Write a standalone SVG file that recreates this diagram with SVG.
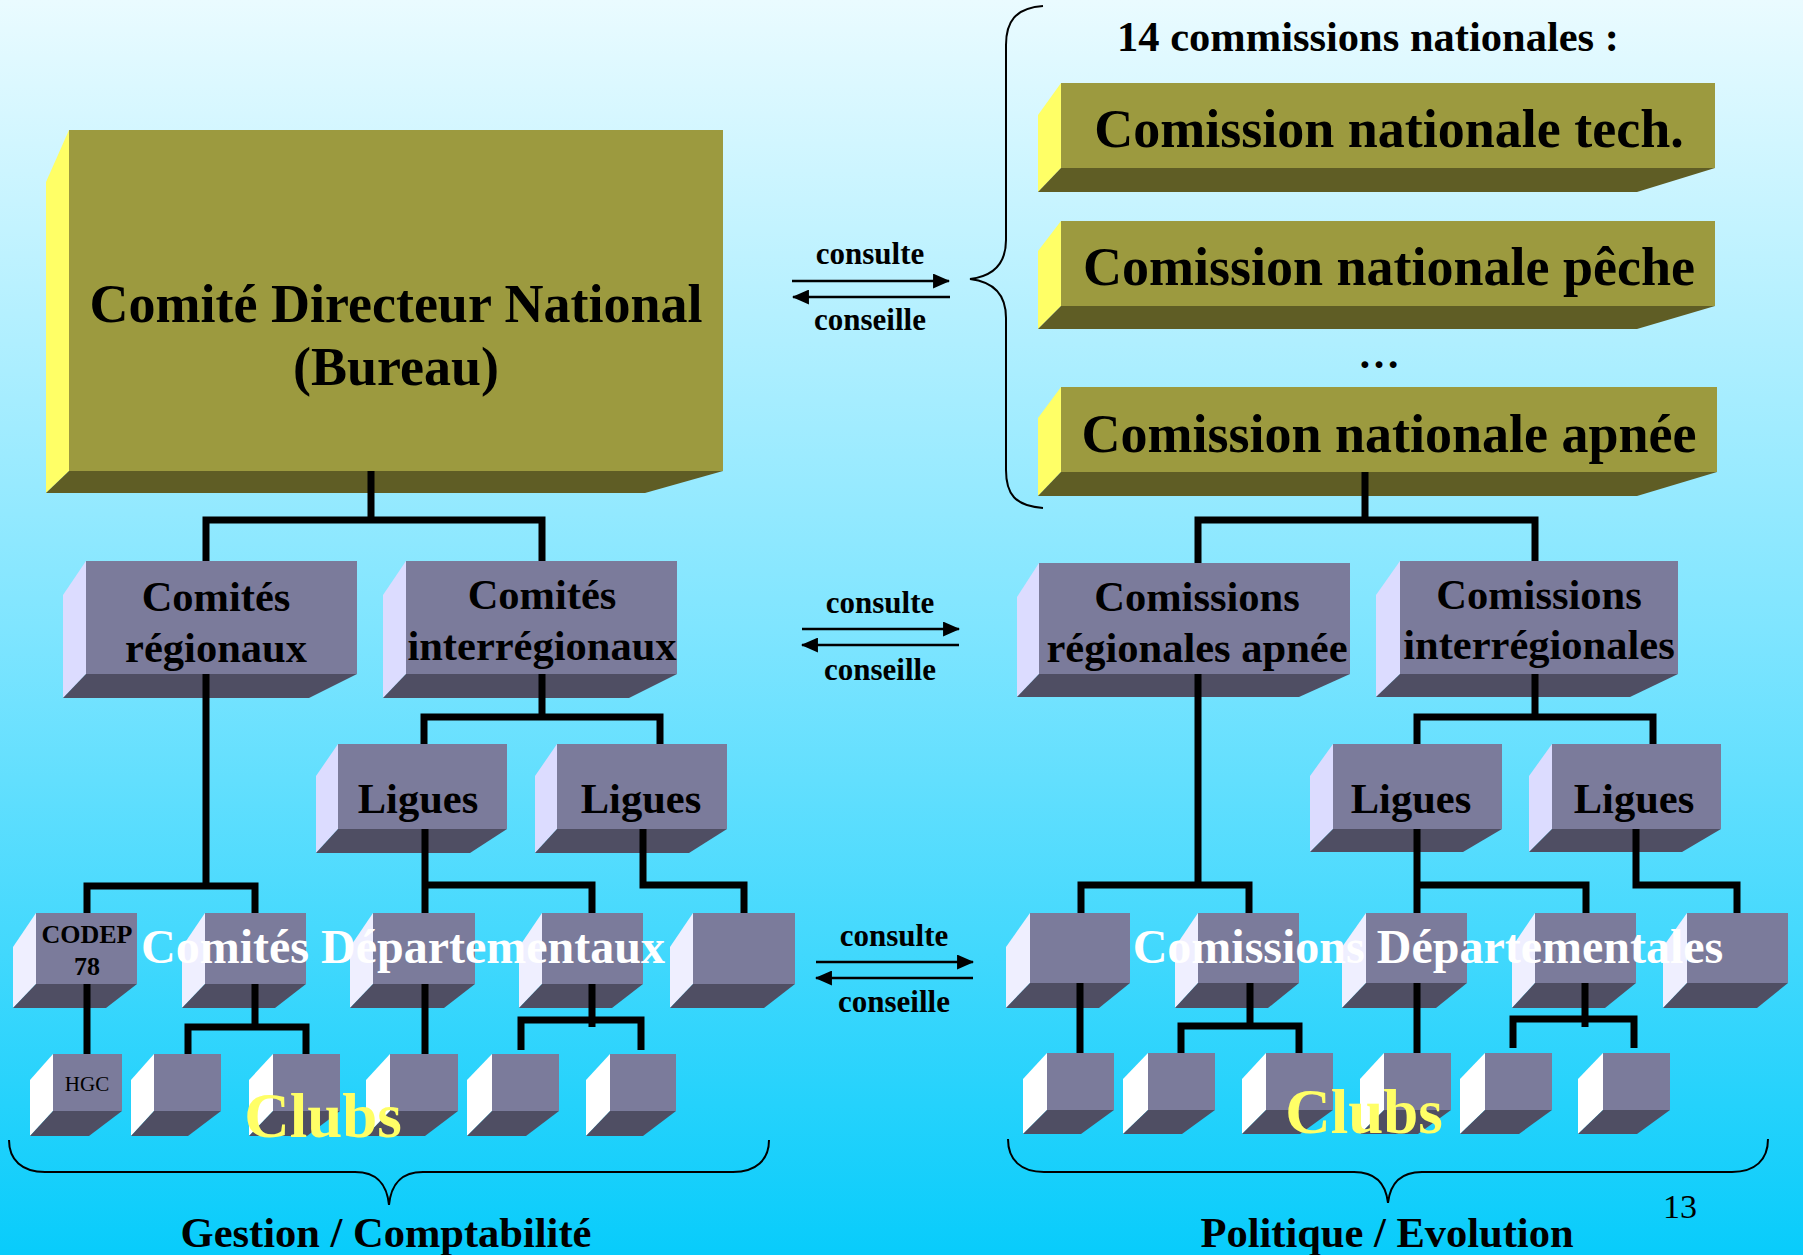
<svg xmlns="http://www.w3.org/2000/svg" width="1803" height="1255" viewBox="0 0 1803 1255">
<defs>
<linearGradient id="bg" x1="0" y1="0" x2="0" y2="1">
<stop offset="0" stop-color="#EAFBFF"/>
<stop offset="0.5" stop-color="#7FE5FF"/>
<stop offset="1" stop-color="#08CCFB"/>
</linearGradient>
<marker id="ah" viewBox="0 0 16 14" refX="15" refY="7" markerWidth="17" markerHeight="15" markerUnits="userSpaceOnUse" orient="auto">
<path d="M0 0 L16 7 L0 14 Z" fill="#000"/>
</marker>
<style>
.of{fill:#9C9A3F}.ob{fill:#5F5D25}.oy{fill:#FFFF66}
.gf{fill:#7B7B9B}.gb{fill:#4F4E63}.gs{fill:#DCDCFF}.ds{fill:#EFEFFF}.cs{fill:#FFFFFF}
.t{font-family:"Liberation Serif","Times New Roman",serif;font-weight:bold;fill:#000;text-anchor:middle}
.big{font-size:54px}.mid{font-size:42.5px}.arr{font-size:31px}
.w{fill:#FFFFFF;font-size:48px}.y{fill:#FFFF66;font-size:63px}
.con{fill:none;stroke:#000;stroke-width:7}
.al{stroke:#000;stroke-width:2.5;marker-end:url(#ah)}
.br{fill:none;stroke:#000;stroke-width:2}
</style>
</defs>
<rect x="0" y="0" width="1803" height="1255" fill="url(#bg)"/>

<g id="cdn">
<polygon class="oy" points="46,182 69,130 69,471 46,493"/>
<polygon class="ob" points="46,493 69,471 723,471 645,493"/>
<rect class="of" x="69" y="130" width="654" height="341"/>
<text class="t big" x="396" y="322">Comité Directeur National</text>
<text class="t big" x="396" y="385">(Bureau)</text>
</g>

<text id="title14" class="t" style="font-size:42.5px" x="1368" y="51">14 commissions nationales :</text>

<g id="cn-tech">
<polygon class="oy" points="1038,115 1061,83 1061,168 1038,192"/>
<polygon class="ob" points="1038,192 1061,168 1715,168 1637,192"/>
<rect class="of" x="1061" y="83" width="654" height="85"/>
<text class="t big" x="1389" y="147">Comission nationale tech.</text>
</g>
<g id="cn-peche">
<polygon class="oy" points="1038,251 1061,221 1061,306 1038,329"/>
<polygon class="ob" points="1038,329 1061,306 1715,306 1637,329"/>
<rect class="of" x="1061" y="221" width="654" height="85"/>
<text class="t big" x="1389" y="285">Comission nationale pêche</text>
</g>
<text id="dots" class="t" style="font-size:42px" x="1379" y="368">…</text>
<g id="cn-apnee">
<polygon class="oy" points="1038,418 1061,387 1061,472 1038,496"/>
<polygon class="ob" points="1038,496 1061,472 1717,472 1637,496"/>
<rect class="of" x="1061" y="387" width="656" height="85"/>
<text class="t big" x="1389" y="452">Comission nationale apnée</text>
</g>

<g id="c-reg">
<polygon class="gs" points="63,595 86,561 86,674 63,698"/>
<polygon class="gb" points="63,698 86,674 357,674 309,698"/>
<rect class="gf" x="86" y="561" width="271" height="113"/>
<text class="t mid" x="216" y="611">Comités</text>
<text class="t mid" x="216" y="662">régionaux</text>
</g>
<g id="c-interreg">
<polygon class="gs" points="383,595 406,561 406,674 383,698"/>
<polygon class="gb" points="383,698 406,674 677,674 629,698"/>
<rect class="gf" x="406" y="561" width="271" height="113"/>
<text class="t mid" x="542" y="609">Comités</text>
<text class="t mid" x="542" y="660">interrégionaux</text>
</g>
<g id="cr-apnee">
<polygon class="gs" points="1017,597 1039,563 1039,674 1017,697"/>
<polygon class="gb" points="1017,697 1039,674 1350,674 1299,697"/>
<rect class="gf" x="1039" y="563" width="311" height="111"/>
<text class="t mid" x="1197" y="611">Comissions</text>
<text class="t mid" x="1197" y="662">régionales apnée</text>
</g>
<g id="cr-interreg">
<polygon class="gs" points="1376,595 1400,561 1400,674 1376,697"/>
<polygon class="gb" points="1376,697 1400,674 1678,674 1630,697"/>
<rect class="gf" x="1400" y="561" width="278" height="113"/>
<text class="t mid" x="1539" y="609">Comissions</text>
<text class="t mid" x="1539" y="659">interrégionales</text>
</g>

<g id="ligue-l1">
<polygon class="gs" points="316,776 338,744 338,829 316,853"/>
<polygon class="gb" points="316,853 338,829 507,829 470,853"/>
<rect class="gf" x="338" y="744" width="169" height="85"/>
<text class="t mid" x="418" y="813">Ligues</text>
</g>
<g id="ligue-l2">
<polygon class="gs" points="535,776 557,744 557,829 535,853"/>
<polygon class="gb" points="535,853 557,829 727,829 689,853"/>
<rect class="gf" x="557" y="744" width="170" height="85"/>
<text class="t mid" x="641" y="813">Ligues</text>
</g>
<g id="ligue-r1">
<polygon class="gs" points="1310,776 1333,744 1333,829 1310,852"/>
<polygon class="gb" points="1310,852 1333,829 1502,829 1463,852"/>
<rect class="gf" x="1333" y="744" width="169" height="85"/>
<text class="t mid" x="1411" y="813">Ligues</text>
</g>
<g id="ligue-r2">
<polygon class="gs" points="1529,776 1552,744 1552,829 1529,852"/>
<polygon class="gb" points="1529,852 1552,829 1721,829 1682,852"/>
<rect class="gf" x="1552" y="744" width="169" height="85"/>
<text class="t mid" x="1634" y="813">Ligues</text>
</g>

<g id="dep-l1">
<polygon class="ds" points="13,947 36,913 36,984 13,1008"/>
<polygon class="gb" points="13,1008 36,984 137,984 106,1008"/>
<rect class="gf" x="36" y="913" width="101" height="71"/>
<text class="t" style="font-size:26px" x="87" y="943">CODEP</text>
<text class="t" style="font-size:26px" x="87" y="975">78</text>
</g>
<g id="dep-l2">
<polygon class="ds" points="182,947 205,913 205,984 182,1008"/>
<polygon class="gb" points="182,1008 205,984 306,984 275,1008"/>
<rect class="gf" x="205" y="913" width="101" height="71"/>
</g>
<g id="dep-l3">
<polygon class="ds" points="350,947 373,913 373,984 350,1008"/>
<polygon class="gb" points="350,1008 373,984 475,984 444,1008"/>
<rect class="gf" x="373" y="913" width="102" height="71"/>
</g>
<g id="dep-l4">
<polygon class="ds" points="519,947 542,913 542,984 519,1008"/>
<polygon class="gb" points="519,1008 542,984 643,984 612,1008"/>
<rect class="gf" x="542" y="913" width="101" height="71"/>
</g>
<g id="dep-l5">
<polygon class="ds" points="670,947 693,913 693,984 670,1008"/>
<polygon class="gb" points="670,1008 693,984 795,984 764,1008"/>
<rect class="gf" x="693" y="913" width="102" height="71"/>
</g>

<g id="dep-r1">
<polygon class="ds" points="1006,947 1030,913 1030,983 1006,1008"/>
<polygon class="gb" points="1006,1008 1030,983 1130,983 1099,1008"/>
<rect class="gf" x="1030" y="913" width="100" height="70"/>
</g>
<g id="dep-r2">
<polygon class="ds" points="1175,947 1198,913 1198,983 1175,1008"/>
<polygon class="gb" points="1175,1008 1198,983 1299,983 1268,1008"/>
<rect class="gf" x="1198" y="913" width="101" height="70"/>
</g>
<g id="dep-r3">
<polygon class="ds" points="1342,947 1366,913 1366,983 1342,1008"/>
<polygon class="gb" points="1342,1008 1366,983 1467,983 1436,1008"/>
<rect class="gf" x="1366" y="913" width="101" height="70"/>
</g>
<g id="dep-r4">
<polygon class="ds" points="1512,947 1535,913 1535,983 1512,1008"/>
<polygon class="gb" points="1512,1008 1535,983 1636,983 1605,1008"/>
<rect class="gf" x="1535" y="913" width="101" height="70"/>
</g>
<g id="dep-r5">
<polygon class="ds" points="1663,947 1687,913 1687,983 1663,1008"/>
<polygon class="gb" points="1663,1008 1687,983 1788,983 1757,1008"/>
<rect class="gf" x="1687" y="913" width="101" height="70"/>
</g>

<g id="club-l1">
<polygon class="cs" points="30,1080 53,1054 53,1111 30,1136"/>
<polygon class="gb" points="30,1136 53,1111 122,1111 89,1136"/>
<rect class="gf" x="53" y="1054" width="69" height="57"/>
<text style="font-family:'Liberation Serif','Times New Roman',serif;font-size:21px;fill:#000;text-anchor:middle" x="87" y="1091">HGC</text>
</g>
<g id="club-l2">
<polygon class="cs" points="131,1080 154,1054 154,1111 131,1136"/>
<polygon class="gb" points="131,1136 154,1111 221,1111 188,1136"/>
<rect class="gf" x="154" y="1054" width="67" height="57"/>
</g>
<g id="club-l3">
<polygon class="cs" points="249,1080 273,1054 273,1111 249,1136"/>
<polygon class="gb" points="249,1136 273,1111 340,1111 307,1136"/>
<rect class="gf" x="273" y="1054" width="67" height="57"/>
</g>
<g id="club-l4">
<polygon class="cs" points="366,1080 390,1054 390,1111 366,1136"/>
<polygon class="gb" points="366,1136 390,1111 458,1111 425,1136"/>
<rect class="gf" x="390" y="1054" width="68" height="57"/>
</g>
<g id="club-l5">
<polygon class="cs" points="467,1080 492,1054 492,1111 467,1136"/>
<polygon class="gb" points="467,1136 492,1111 559,1111 526,1136"/>
<rect class="gf" x="492" y="1054" width="67" height="57"/>
</g>
<g id="club-l6">
<polygon class="cs" points="586,1080 610,1054 610,1111 586,1136"/>
<polygon class="gb" points="586,1136 610,1111 676,1111 643,1136"/>
<rect class="gf" x="610" y="1054" width="66" height="57"/>
</g>

<g id="club-r1">
<polygon class="cs" points="1023,1079 1047,1053 1047,1110 1023,1134"/>
<polygon class="gb" points="1023,1134 1047,1110 1114,1110 1081,1134"/>
<rect class="gf" x="1047" y="1053" width="67" height="57"/>
</g>
<g id="club-r2">
<polygon class="cs" points="1123,1079 1148,1053 1148,1110 1123,1134"/>
<polygon class="gb" points="1123,1134 1148,1110 1215,1110 1182,1134"/>
<rect class="gf" x="1148" y="1053" width="67" height="57"/>
</g>
<g id="club-r3">
<polygon class="cs" points="1242,1079 1266,1053 1266,1110 1242,1134"/>
<polygon class="gb" points="1242,1134 1266,1110 1333,1110 1300,1134"/>
<rect class="gf" x="1266" y="1053" width="67" height="57"/>
</g>
<g id="club-r4">
<polygon class="cs" points="1360,1079 1384,1053 1384,1110 1360,1134"/>
<polygon class="gb" points="1360,1134 1384,1110 1451,1110 1418,1134"/>
<rect class="gf" x="1384" y="1053" width="67" height="57"/>
</g>
<g id="club-r5">
<polygon class="cs" points="1460,1079 1485,1053 1485,1110 1460,1134"/>
<polygon class="gb" points="1460,1134 1485,1110 1552,1110 1519,1134"/>
<rect class="gf" x="1485" y="1053" width="67" height="57"/>
</g>
<g id="club-r6">
<polygon class="cs" points="1578,1079 1603,1053 1603,1110 1578,1134"/>
<polygon class="gb" points="1578,1134 1603,1110 1670,1110 1637,1134"/>
<rect class="gf" x="1603" y="1053" width="67" height="57"/>
</g>

<g id="connectors">
<path class="con" d="M371 471 V520 M206 561 V520 H542 V561"/>
<path class="con" d="M1365 472 V520 M1198 563 V520 H1535 V561"/>
<path class="con" d="M206 674 V886 M87 913 V886 H255 V913"/>
<path class="con" d="M542 674 V717 M424 744 V717 H660 V744"/>
<path class="con" d="M425 829 V913 M425 885 H592 V913"/>
<path class="con" d="M643 829 V885 H744 V913"/>
<path class="con" d="M87 984 V1054"/>
<path class="con" d="M255 984 V1027 M188 1054 V1027 H306 V1054"/>
<path class="con" d="M425 984 V1054"/>
<path class="con" d="M592 984 V1027 M521 1050 V1020 H641 V1050"/>
<path class="con" d="M1198 674 V885 M1081 913 V885 H1249 V913"/>
<path class="con" d="M1535 674 V717 M1417 744 V717 H1653 V744"/>
<path class="con" d="M1417 829 V913 M1417 885 H1586 V913"/>
<path class="con" d="M1636 829 V885 H1737 V913"/>
<path class="con" d="M1080 983 V1053"/>
<path class="con" d="M1250 983 V1026 M1181 1053 V1026 H1299 V1053"/>
<path class="con" d="M1417 983 V1053"/>
<path class="con" d="M1585 983 V1027 M1513 1048 V1019 H1634 V1048"/>
<line class="al" x1="792" y1="281" x2="949" y2="281"/>
<line class="al" x1="950" y1="297" x2="793" y2="297"/>
<line class="al" x1="802" y1="629" x2="959" y2="629"/>
<line class="al" x1="959" y1="645" x2="802" y2="645"/>
<line class="al" x1="816" y1="962" x2="973" y2="962"/>
<line class="al" x1="973" y1="978" x2="816" y2="978"/>
</g>

<g id="arrow-labels">
<text class="t arr" x="870" y="264">consulte</text>
<text class="t arr" x="870" y="330">conseille</text>
<text class="t arr" x="880" y="613">consulte</text>
<text class="t arr" x="880" y="680">conseille</text>
<text class="t arr" x="894" y="946">consulte</text>
<text class="t arr" x="894" y="1012">conseille</text>
</g>

<g id="braces">
<path class="br" d="M1043 6 C1015 8 1006 22 1006 45 V240 C1006 262 995 276 970 279 C995 282 1006 296 1006 318 V470 C1006 494 1015 506 1043 508"/>
<path class="br" d="M9 1140 C9 1160 22 1172 45 1172 H355 C378 1172 387 1185 389 1205 C391 1185 400 1172 423 1172 H733 C756 1172 769 1160 769 1140"/>
<path class="br" d="M1008 1139 C1008 1160 1021 1172 1044 1172 H1354 C1377 1172 1386 1185 1388 1203 C1390 1185 1399 1172 1422 1172 H1732 C1755 1172 1768 1160 1768 1139"/>
</g>

<g id="labels">
<text class="t w" x="403" y="963">Comités Départementaux</text>
<text class="t w" x="1428" y="963">Comissions Départementales</text>
<text class="t y" x="323" y="1137">Clubs</text>
<text class="t y" x="1364" y="1133">Clubs</text>
<text class="t mid" x="386" y="1247">Gestion / Comptabilité</text>
<text class="t mid" x="1387" y="1247">Politique / Evolution</text>
<text style="font-family:'Liberation Serif','Times New Roman',serif;font-size:34px;fill:#000;text-anchor:middle" x="1680" y="1218">13</text>
</g>
</svg>
